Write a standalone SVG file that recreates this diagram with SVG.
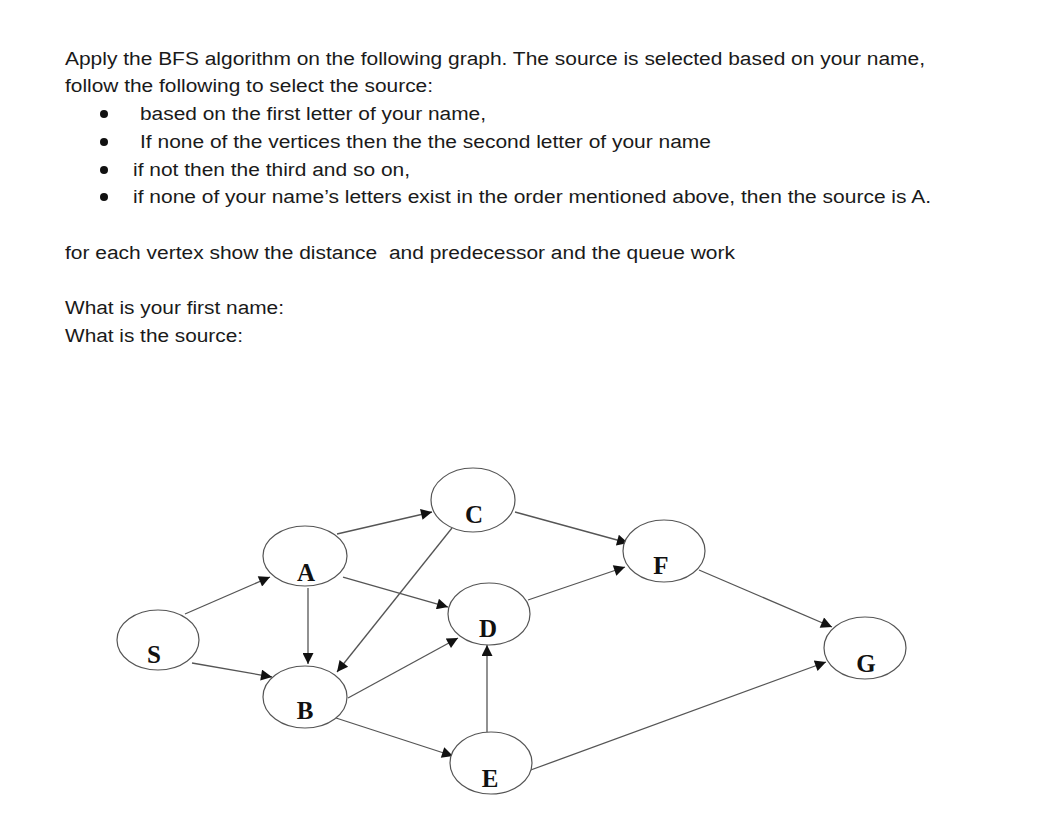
<svg xmlns="http://www.w3.org/2000/svg" width="1045" height="814" viewBox="0 0 1045 814">
<style>
.t{font-family:"Liberation Sans",Arial,sans-serif;font-size:18px;fill:#1a1a1a}
.n ellipse{fill:#fff;stroke:#555;stroke-width:1.2}
.n text{font-family:"Liberation Serif","Times New Roman",serif;font-size:25px;font-weight:bold;fill:#111;text-anchor:middle}
.e line{stroke:#555;stroke-width:1.3;marker-end:url(#ah)}
.b{fill:#111}
</style>
<defs>
<marker id="ah" viewBox="0 0 10 10" refX="10" refY="5" markerWidth="14" markerHeight="11" markerUnits="userSpaceOnUse" orient="auto">
<path d="M0,0 L10,5 L0,10 z" fill="#111"/>
</marker>
</defs>
<rect width="1045" height="814" fill="#fff"/>
<g id="text">
<text class="t" x="65" y="65" textLength="860" lengthAdjust="spacingAndGlyphs">Apply the BFS algorithm on the following graph. The source is selected based on your name,</text>
<text class="t" x="65" y="92" textLength="368" lengthAdjust="spacingAndGlyphs">follow the following to select the source:</text>
<circle class="b" cx="104" cy="114" r="4"/>
<text class="t" x="140" y="120" textLength="346" lengthAdjust="spacingAndGlyphs">based on the first letter of your name,</text>
<circle class="b" cx="104" cy="142" r="4"/>
<text class="t" x="140" y="148" textLength="571" lengthAdjust="spacingAndGlyphs">If none of the vertices then the the second letter of your name</text>
<circle class="b" cx="104" cy="170" r="4"/>
<text class="t" x="133" y="176" textLength="277" lengthAdjust="spacingAndGlyphs">if not then the third and so on,</text>
<circle class="b" cx="104" cy="197" r="4"/>
<text class="t" x="133" y="203" textLength="798" lengthAdjust="spacingAndGlyphs">if none of your name’s letters exist in the order mentioned above, then the source is A.</text>
<text class="t" x="65" y="259" textLength="670" lengthAdjust="spacingAndGlyphs" xml:space="preserve">for each vertex show the distance  and predecessor and the queue work</text>
<text class="t" x="65" y="314" textLength="219" lengthAdjust="spacingAndGlyphs">What is your first name:</text>
<text class="t" x="65" y="342" textLength="178" lengthAdjust="spacingAndGlyphs">What is the source:</text>
</g>
<g id="edges" class="e">
<line x1="185" y1="614" x2="270" y2="577"/>
<line x1="192" y1="663" x2="272" y2="677"/>
<line x1="308" y1="588" x2="308" y2="664"/>
<line x1="337" y1="534" x2="432" y2="512"/>
<line x1="343" y1="577" x2="448" y2="607"/>
<line x1="452" y1="528" x2="337" y2="672"/>
<line x1="348" y1="698" x2="458" y2="638"/>
<line x1="336" y1="718" x2="453" y2="756"/>
<line x1="487" y1="732" x2="487" y2="645"/>
<line x1="515" y1="512" x2="628" y2="543"/>
<line x1="528" y1="600" x2="625" y2="567"/>
<line x1="699" y1="570" x2="832" y2="627"/>
<line x1="528" y1="771" x2="826" y2="662"/>
</g>
<g id="S" class="n"><ellipse cx="158" cy="640" rx="41" ry="30"/><text x="154" y="663">S</text></g>
<g id="A" class="n"><ellipse cx="305" cy="556" rx="42" ry="30"/><text x="306" y="581">A</text></g>
<g id="B" class="n"><ellipse cx="305" cy="697" rx="42" ry="31"/><text x="305" y="719">B</text></g>
<g id="C" class="n"><ellipse cx="473" cy="500" rx="42" ry="32"/><text x="474" y="523">C</text></g>
<g id="D" class="n"><ellipse cx="489" cy="614" rx="41" ry="31"/><text x="488" y="637">D</text></g>
<g id="E" class="n"><ellipse cx="491" cy="763" rx="41" ry="31"/><text x="490" y="787">E</text></g>
<g id="F" class="n"><ellipse cx="664" cy="551" rx="41" ry="31"/><text x="661" y="574">F</text></g>
<g id="G" class="n"><ellipse cx="865" cy="648" rx="41" ry="31"/><text x="866" y="672">G</text></g>
</svg>
